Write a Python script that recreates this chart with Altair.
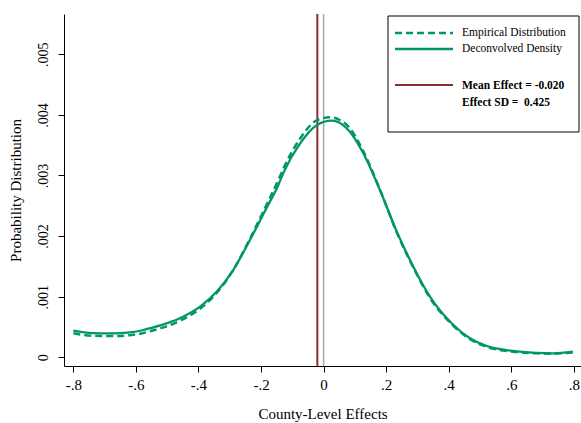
import altair as alt
import pandas as pd

# ---- data ----
emp_x = [-0.80, -0.74, -0.672, -0.62, -0.576, -0.555, -0.502, -0.449, -0.395, -0.342, -0.289,
         -0.235, -0.182, -0.145, -0.127, -0.075, -0.022, 0.02, 0.05, 0.084, 0.127, 0.18, 0.234,
         0.287, 0.34, 0.415, 0.468, 0.522, 0.575, 0.628, 0.68, 0.734, 0.797]
emp_y = [0.000395, 0.000355, 0.000350, 0.000365, 0.000400, 0.000430, 0.000510, 0.000630,
         0.000800, 0.001060, 0.001440, 0.001960, 0.002520, 0.002920, 0.003130, 0.003610,
         0.003910, 0.003960, 0.003920, 0.003780, 0.003400, 0.002770, 0.002060, 0.001480,
         0.000980, 0.000520, 0.000300, 0.000170, 0.000110, 0.000080, 0.000065, 0.000060,
         0.000080]

dec_x = [-0.80, -0.74, -0.672, -0.62, -0.576, -0.555, -0.502, -0.449, -0.395, -0.342, -0.289,
         -0.235, -0.182, -0.145, -0.127, -0.075, -0.022, 0.026, 0.06, 0.084, 0.127, 0.18,
         0.234, 0.287, 0.34, 0.415, 0.468, 0.522, 0.575, 0.628, 0.68, 0.734, 0.797]
dec_y = [0.000440, 0.000400, 0.000396, 0.000410, 0.000450, 0.000480, 0.000560, 0.000670,
         0.000835, 0.001080, 0.001440, 0.001940, 0.002470, 0.002840, 0.003060, 0.003530,
         0.003830, 0.003904, 0.003840, 0.003723, 0.003366, 0.002761, 0.002073, 0.001495,
         0.001000, 0.000533, 0.000314, 0.000186, 0.000125, 0.000092, 0.000072, 0.000066,
         0.000092]

mean_effect = -0.020
effect_sd = 0.425
zero_line = 0.0

x_ticks = [-0.8, -0.6, -0.4, -0.2, 0.0, 0.2, 0.4, 0.6, 0.8]
y_ticks = [0.0, 0.001, 0.002, 0.003, 0.004, 0.005]

legend_labels = ["Empirical Distribution", "Deconvolved Density"]

GREEN = "#009669"
RED = "#8E2C32"
FONT = "Liberation Serif"

curves = pd.concat([
    pd.DataFrame({"x": emp_x, "y": emp_y, "series": legend_labels[0]}),
    pd.DataFrame({"x": dec_x, "y": dec_y, "series": legend_labels[1]}),
])

xscale = alt.Scale(domain=[-0.830, 0.823], nice=False, zero=False)
yscale = alt.Scale(domain=[-0.000144, 0.005665], nice=False, zero=False)

xaxis = alt.Axis(
    values=x_ticks, grid=False, domainColor="black", tickColor="black", tickSize=6,
    labelExpr="datum.value == 0 ? '0' : replace(replace(format(datum.value, '.1f'), '\u2212', '-'), '0.', '.')",
    labelFont=FONT, labelFontSize=15, labelColor="black", labelPadding=5,
    title="County-Level Effects", titleFont=FONT, titleFontSize=15, titleFontWeight="normal",
    titleColor="black", titleY=47, titleBaseline="middle",
)
yaxis = alt.Axis(
    values=y_ticks, grid=False, domainColor="black", tickColor="black", tickSize=6,
    labelExpr="datum.value == 0 ? '0' : replace(format(datum.value, '.3f'), '0.', '.')",
    labelFont=FONT, labelFontSize=14, labelColor="black", labelAngle=-90,
    labelAlign="center", labelBaseline="bottom", labelPadding=8,
    title="Probability Distribution", titleFont=FONT, titleFontSize=15,
    titleFontWeight="normal", titleColor="black", titleX=-49, titleY=176,
    titleAngle=-90, titleAlign="center", titleBaseline="middle",
)

zero_rule = alt.Chart(pd.DataFrame({"x": [zero_line]})).mark_rule(
    color="#a8a8a8", strokeWidth=1.5
).encode(x=alt.X("x:Q", scale=xscale, axis=xaxis))

mean_rule = alt.Chart(pd.DataFrame({"x": [mean_effect]})).mark_rule(
    color=RED, strokeWidth=2
).encode(x=alt.X("x:Q", scale=xscale))

emp_line = alt.Chart(curves[curves.series == legend_labels[0]]).mark_line(
    color=GREEN, strokeWidth=2.5, strokeDash=[7, 4], interpolate="monotone"
).encode(x=alt.X("x:Q", scale=xscale), y=alt.Y("y:Q", scale=yscale, axis=yaxis))

dec_line = alt.Chart(curves[curves.series == legend_labels[1]]).mark_line(
    color=GREEN, strokeWidth=2.3, interpolate="monotone"
).encode(x=alt.X("x:Q", scale=xscale), y=alt.Y("y:Q", scale=yscale))

one = pd.DataFrame({"a": [0]})
leg_box = alt.Chart(one).mark_rect(fill="white", stroke="black", strokeWidth=1).encode(
    x=alt.value(324), x2=alt.value(515), y=alt.value(2), y2=alt.value(118)
)
leg_dash = alt.Chart(one).mark_rule(color=GREEN, strokeWidth=2.5, strokeDash=[7, 4]).encode(
    x=alt.value(331), x2=alt.value(389), y=alt.value(19)
)
leg_solid = alt.Chart(one).mark_rule(color=GREEN, strokeWidth=2.3).encode(
    x=alt.value(331), x2=alt.value(389), y=alt.value(35)
)
leg_red = alt.Chart(one).mark_rule(color=RED, strokeWidth=2).encode(
    x=alt.value(331), x2=alt.value(389), y=alt.value(71)
)

legend_text = pd.DataFrame({
    "t": [legend_labels[0], legend_labels[1]],
    "yy": [19, 35],
})
leg_txt = alt.Chart(legend_text).mark_text(
    font=FONT, fontSize=11.5, align="left", baseline="middle", color="black"
).encode(x=alt.value(398), y=alt.Y("yy:Q", scale=None), text="t:N")

stats_text = pd.DataFrame({
    "t": [f"Mean Effect = {mean_effect:.3f}", f"Effect SD =\u00a0 {effect_sd:.3f}"],
    "yy": [72, 89],
})
stats_txt = alt.Chart(stats_text).mark_text(
    font=FONT, fontSize=11.5, fontWeight="bold", align="left", baseline="middle",
    color="black"
).encode(x=alt.value(398), y=alt.Y("yy:Q", scale=None), text="t:N")

chart = alt.layer(
    zero_rule, mean_rule, emp_line, dec_line,
    leg_box, leg_dash, leg_solid, leg_red, leg_txt, stats_txt,
).properties(
    width=517, height=352,
    autosize=alt.AutoSizeParams(type="none"),
    padding={"left": 64, "top": 14, "right": 0, "bottom": 57},
    background="white",
).configure_view(stroke=None).configure_axis(domainWidth=1, tickWidth=1)

chart.save("out.html", embed_options={"renderer": "svg", "actions": False})
